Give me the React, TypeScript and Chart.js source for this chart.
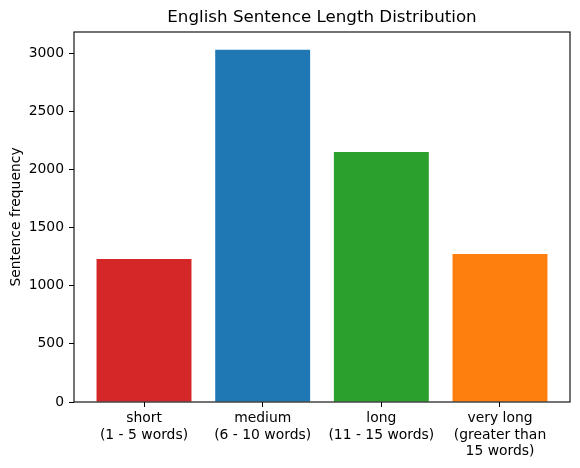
import React, { useEffect, useRef } from "react";
import { Chart, registerables } from "chart.js";

Chart.register(...registerables);

const chartTitle = "English Sentence Length Distribution";
const categories: string[][] = [
  ["short", "(1 - 5 words)"],
  ["medium", "(6 - 10 words)"],
  ["long", "(11 - 15 words)"],
  ["very long", "(greater than", "15 words)"],
];
const frequencies: number[] = [1230, 3030, 2150, 1272];
const barColors: string[] = ["#d62728", "#1f77b4", "#2ca02c", "#ff7f0e"];
const yTicks: number[] = [0, 500, 1000, 1500, 2000, 2500, 3000];

const FONT = "'DejaVu Sans', sans-serif";

const framePlugin = {
  id: "frame",
  afterDatasetsDraw(chart: any) {
    const { ctx, chartArea } = chart;
    ctx.save();
    ctx.strokeStyle = "#000";
    ctx.lineWidth = 1.1;
    ctx.strokeRect(chartArea.left, chartArea.top, chartArea.right - chartArea.left, chartArea.bottom - chartArea.top);
    ctx.fillStyle = "#000";
    ctx.font = `16.7px ${FONT}`;
    ctx.textAlign = "center";
    ctx.textBaseline = "middle";
    ctx.fillText(chartTitle, (chartArea.left + chartArea.right) / 2, 18);
    ctx.restore();
  },
};

export default function App() {
  const ref = useRef<HTMLCanvasElement>(null);
  useEffect(() => {
    document.body.style.margin = "0";
    const chart = new Chart(ref.current!, {
      type: "bar",
      data: {
        datasets: [
          {
            data: frequencies.map((v, i) => ({ x: i, y: v })),
            backgroundColor: barColors,
            barPercentage: 0.8,
            categoryPercentage: 1,
          },
        ],
      },
      options: {
        animation: false,
        responsive: false,
        maintainAspectRatio: false,
        layout: { padding: { left: 0, right: 10, top: 32, bottom: 0 } },
        plugins: {
          legend: { display: false },
          tooltip: { enabled: false },
          title: { display: false },
        },
        scales: {
          x: {
            type: "linear",
            min: -0.59,
            max: 3.59,
            offset: false,
            grid: { offset: false, drawOnChartArea: false, drawTicks: true, tickLength: 5, tickColor: "#000" },
            border: { display: false },
            afterBuildTicks: (scale: any) => {
              scale.ticks = categories.map((_, i) => ({ value: i }));
            },
            afterFit: (scale: any) => {
              scale.height = 66;
            },
            ticks: {
              color: "#000",
              padding: 3,
              maxRotation: 0,
              autoSkip: false,
              font: { family: FONT, size: 13.9 },
              callback: (v: any) => categories[v] ?? "",
            },
          },
          y: {
            min: 0,
            max: 3182,
            grid: { drawOnChartArea: false, drawTicks: true, tickLength: 5, tickColor: "#000" },
            border: { display: false },
            afterBuildTicks: (scale: any) => {
              scale.ticks = yTicks.map((v) => ({ value: v }));
            },
            afterFit: (scale: any) => {
              scale.width = 74;
            },
            title: {
              display: true,
              text: "Sentence frequency",
              color: "#000",
              font: { family: FONT, size: 13.9 },
              padding: { top: 7.7, bottom: 0 },
            },
            ticks: {
              color: "#000",
              padding: 5,
              font: { family: FONT, size: 13.9 },
              callback: (v: any) => String(v),
            },
          },
        },
      },
      plugins: [framePlugin],
    } as any);
    return () => chart.destroy();
  }, []);
  return (
    <div style={{ width: 580, height: 468 }}>
      <canvas ref={ref} width={580} height={468} style={{ width: 580, height: 468, display: "block" }} />
    </div>
  );
}
